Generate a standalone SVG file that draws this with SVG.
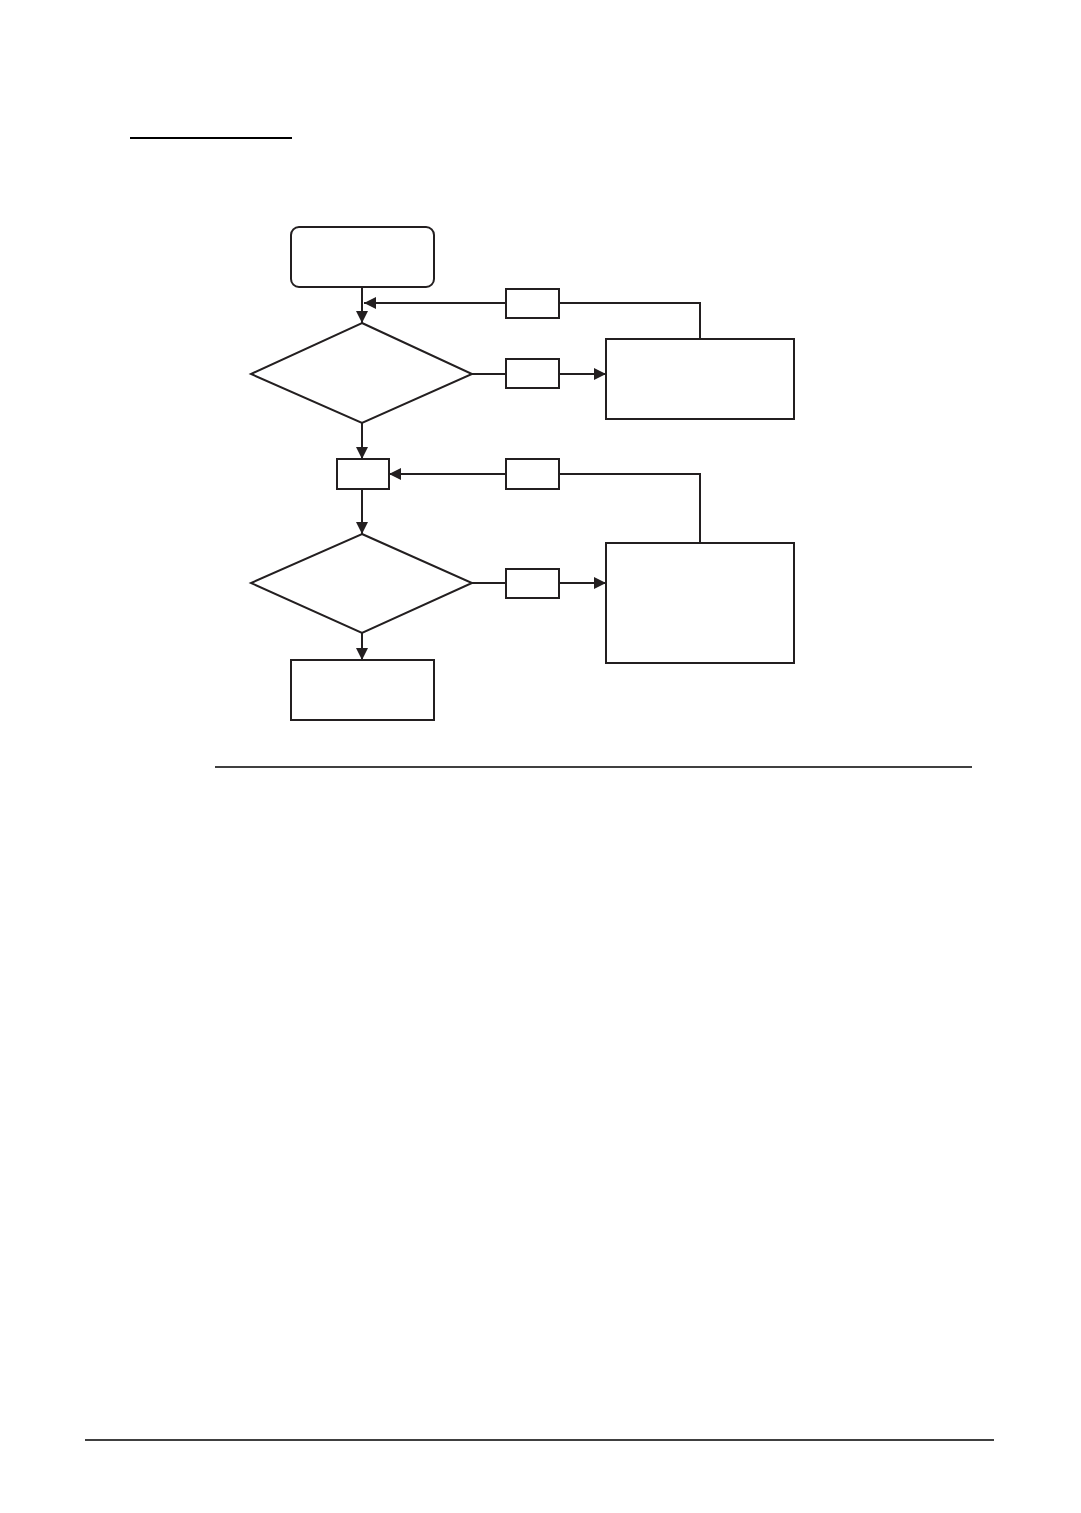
<svg xmlns="http://www.w3.org/2000/svg" width="1081" height="1513" viewBox="0 0 1081 1513">
<style>
.n{fill:#fff;stroke:#231f20;stroke-width:2}
.c{fill:none;stroke:#231f20;stroke-width:2}
.r{stroke:#000;stroke-width:1.5}
</style>
<defs>
<marker id="ah" markerUnits="userSpaceOnUse" markerWidth="12" markerHeight="12" viewBox="0 0 12 12" refX="12" refY="6" orient="auto">
<path d="M0,0 L12,6 L0,12 z" fill="#231f20"/>
</marker>
</defs>
<rect width="1081" height="1513" fill="#fff"/>
<line x1="130" y1="138" x2="292" y2="138" stroke="#000" stroke-width="2"/>
<line class="r" x1="215" y1="767" x2="972" y2="767"/>
<line class="r" x1="85" y1="1440" x2="994" y2="1440"/>
<g id="connectors">
<line class="c" x1="362" y1="287" x2="362" y2="323" marker-end="url(#ah)"/>
<polyline class="c" points="700,339 700,303 559,303"/>
<line class="c" x1="506" y1="303" x2="364" y2="303" marker-end="url(#ah)"/>
<line class="c" x1="472" y1="374" x2="506" y2="374"/>
<line class="c" x1="559" y1="374" x2="606" y2="374" marker-end="url(#ah)"/>
<line class="c" x1="362" y1="423" x2="362" y2="459" marker-end="url(#ah)"/>
<polyline class="c" points="700,543 700,474 559,474"/>
<line class="c" x1="506" y1="474" x2="389" y2="474" marker-end="url(#ah)"/>
<line class="c" x1="362" y1="489" x2="362" y2="534" marker-end="url(#ah)"/>
<line class="c" x1="472" y1="583" x2="506" y2="583"/>
<line class="c" x1="559" y1="583" x2="606" y2="583" marker-end="url(#ah)"/>
<line class="c" x1="362" y1="633" x2="362" y2="660" marker-end="url(#ah)"/>
</g>
<g id="start"><rect class="n" x="291" y="227" width="143" height="60" rx="8"/></g>
<g id="label1"><rect class="n" x="506" y="289" width="53" height="29"/></g>
<g id="decision1"><polygon class="n" points="362,323 472,374 362,423 251,374"/></g>
<g id="label2"><rect class="n" x="506" y="359" width="53" height="29"/></g>
<g id="action1"><rect class="n" x="606" y="339" width="188" height="80"/></g>
<g id="step"><rect class="n" x="337" y="459" width="52" height="30"/></g>
<g id="label3"><rect class="n" x="506" y="459" width="53" height="30"/></g>
<g id="decision2"><polygon class="n" points="362,534 472,583 362,633 251,583"/></g>
<g id="label4"><rect class="n" x="506" y="569" width="53" height="29"/></g>
<g id="action2"><rect class="n" x="606" y="543" width="188" height="120"/></g>
<g id="end"><rect class="n" x="291" y="660" width="143" height="60"/></g>
</svg>
